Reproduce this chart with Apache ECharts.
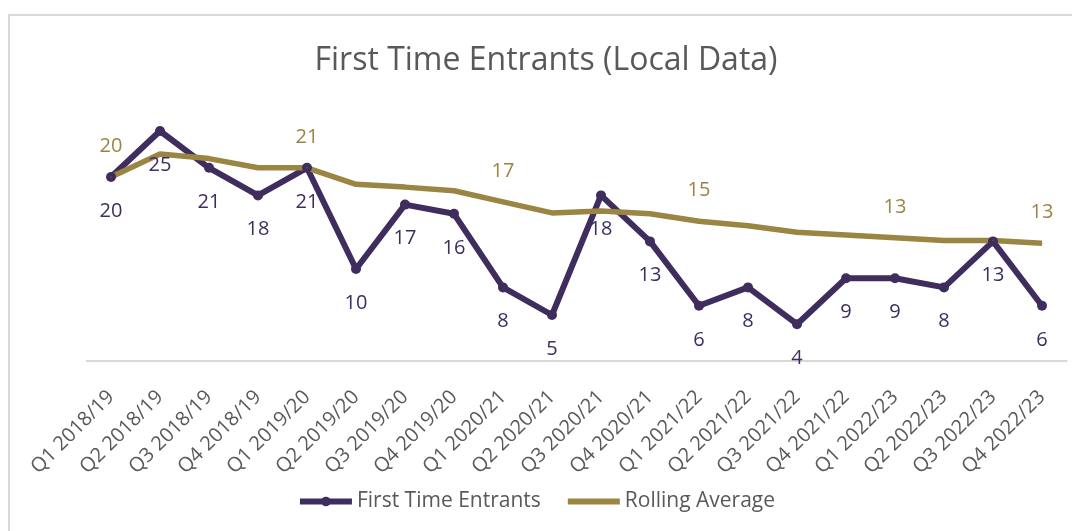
<!DOCTYPE html>
<html lang="en">
<head>
    <meta charset="UTF-8">
    <title>First Time Entrants</title>
    <script src="https://cdn.jsdelivr.net/npm/echarts@6/dist/echarts.min.js"></script>
    <style>
        html, body { margin: 0; padding: 0; background: #fff; }
        #frame {
            position: absolute; left: 8px; top: 14px; width: 1100px; height: 560px;
            border-left: 2px solid #d9d9d9; border-top: 2px solid #d9d9d9;
        }
        #chart1 { position: absolute; left: 0; top: 0; width: 1072px; height: 531px; }
    </style>
</head>
<body>
    <div id="frame"></div>
    <div id="chart1"></div>
    <script>
        var quarters = ['Q1 2018/19', 'Q2 2018/19', 'Q3 2018/19', 'Q4 2018/19',
            'Q1 2019/20', 'Q2 2019/20', 'Q3 2019/20', 'Q4 2019/20',
            'Q1 2020/21', 'Q2 2020/21', 'Q3 2020/21', 'Q4 2020/21',
            'Q1 2021/22', 'Q2 2021/22', 'Q3 2021/22', 'Q4 2021/22',
            'Q1 2022/23', 'Q2 2022/23', 'Q3 2022/23', 'Q4 2022/23'];
        var entrants = [20, 25, 21, 18, 21, 10, 17, 16, 8, 5, 18, 13, 6, 8, 4, 9, 9, 8, 13, 6];
        var rollingAvg = [20, 22.5, 22, 21, 21, 19.2, 18.9, 18.5, 17.3, 16.1, 16.3, 16, 15.2, 14.7, 14, 13.7, 13.4, 13.1, 13.1, 12.8];
        // only these points carry a label on the rolling average line
        var avgLabelIdx = [0, 4, 8, 12, 16, 19];

        var purple = '#3f2d5e';
        var gold = '#9b8542';
        var textGrey = '#595959';
        var font = 'Open Sans';

        var avgData = rollingAvg.map(function (v, i) {
            return { value: v, label: { show: avgLabelIdx.indexOf(i) >= 0 } };
        });

        var chart1 = echarts.init(document.getElementById('chart1'));
        chart1.setOption({
            animation: false,
            title: {
                text: 'First Time Entrants (Local Data)',
                left: 541,
                textAlign: 'center',
                top: 40,
                textStyle: { color: textGrey, fontWeight: 'normal', fontSize: 32, fontFamily: font }
            },
            legend: {
                bottom: 14,
                left: 'center',
                itemWidth: 52,
                itemHeight: 12,
                itemGap: 24,
                lineStyle: { width: 6 },
                textStyle: { color: textGrey, fontSize: 21, fontFamily: font },
                data: [
                    { name: 'First Time Entrants' },
                    { name: 'Rolling Average', itemStyle: { opacity: 0 } }
                ]
            },
            grid: { left: 86.5, right: 5.5, top: 85, bottom: 170 },
            xAxis: {
                type: 'category',
                data: quarters,
                boundaryGap: true,
                axisLine: { lineStyle: { color: '#d9d9d9', width: 2 } },
                axisTick: { show: false },
                axisLabel: {
                    rotate: 45, interval: 0, margin: 33,
                    color: textGrey, fontSize: 20, fontFamily: font
                }
            },
            yAxis: {
                type: 'value', min: 0, max: 30,
                show: false,
                splitLine: { show: false }
            },
            series: [
                {
                    name: 'First Time Entrants',
                    type: 'line',
                    data: entrants,
                    symbol: 'circle',
                    symbolSize: 10,
                    color: purple,
                    lineStyle: { color: purple, width: 6 },
                    itemStyle: { color: purple },
                    label: {
                        show: true, position: 'bottom', distance: 19,
                        color: purple, fontSize: 20, fontFamily: font
                    }
                },
                {
                    name: 'Rolling Average',
                    type: 'line',
                    data: avgData,
                    symbol: 'circle',
                    symbolSize: 1,
                    color: gold,
                    lineStyle: { color: gold, width: 5.5 },
                    itemStyle: { color: gold },
                    label: {
                        position: 'top', distance: 20,
                        color: gold, fontSize: 20, fontFamily: font,
                        formatter: function (p) { return Math.round(p.value); }
                    }
                }
            ]
        });
    </script>
</body>
</html>
